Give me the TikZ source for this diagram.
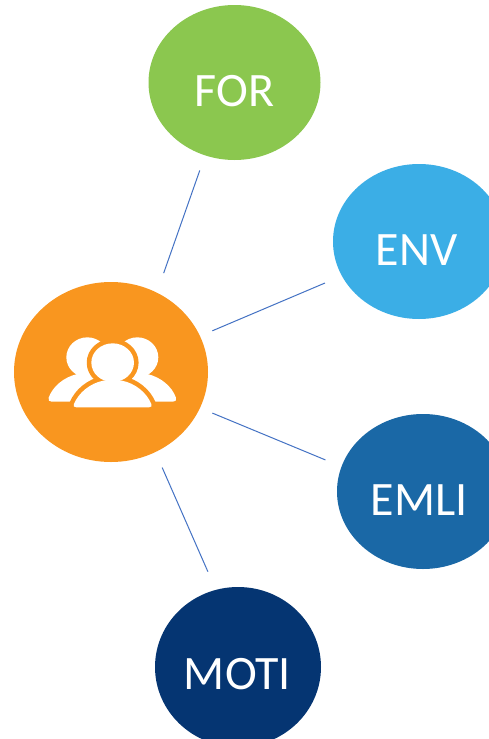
\documentclass[tikz,border=0pt]{standalone}
\usepackage{fontspec}
\setmainfont{Carlito}
\usetikzlibrary{shapes.geometric}
\definecolor{cfor}{HTML}{8BC74F}
\definecolor{cenv}{HTML}{3BAEE6}
\definecolor{cemli}{HTML}{1A68A6}
\definecolor{cmoti}{HTML}{053572}
\definecolor{chub}{HTML}{F9961F}
\definecolor{cline}{HTML}{4472C4}
\tikzset{
  blob/.style={ellipse,draw=none,inner sep=0pt,outer sep=0pt},
  lbl/.style={text=white,font=\fontsize{48}{52}\selectfont,inner sep=0pt},
  link/.style={draw=cline,line width=1pt},
  fig/.style={fill=white,draw=none},
  figedge/.style={draw=chub,line width=9.2pt,line join=round}
}
\newcommand{\frontbody}{(310,332) .. controls (270,340) and (236,368) .. (222,402)
     .. controls (219,409) and (222,412) .. (229,412) -- (447,412)
     .. controls (454,412) and (457,409) .. (454,402)
     .. controls (440,368) and (406,340) .. (366,332) -- cycle}
\begin{document}
\begin{tikzpicture}[x=1pt,y=-1pt]
\clip (0,0) rectangle (489,739);
\fill[white] (0,0) rectangle (489,739);
\node[blob,fill=cfor,minimum width=172pt,minimum height=155pt] (for) at (234.5,82.5) {};
\node[blob,fill=cenv,minimum width=172pt,minimum height=155pt] (env) at (419,241.5) {};
\node[blob,fill=cemli,minimum width=172pt,minimum height=155pt] (emli) at (423,491.5) {};
\node[blob,fill=cmoti,minimum width=166pt,minimum height=160pt] (moti) at (238,667) {};
\node[blob,fill=chub,minimum width=194pt,minimum height=180pt] (hub) at (111,372) {};
\node[lbl] (tfor) at (234.5,91) {FOR};
\node[lbl] (tenv) at (416.5,250) {ENV};
\node[lbl] (temli) at (419,500) {EMLI};
\node[lbl] (tmoti) at (237.5,674) {MOTI};
\draw[link,shorten <=20.7pt,shorten >=16pt] (hub.60) -- (for.-112.4);
\draw[link,shorten <=13.5pt,shorten >=18.4pt] (hub.22.6) -- (env.204.1);
\draw[link,shorten <=13.5pt,shorten >=17.5pt] (hub.-22.6) -- (emli.163.8);
\draw[link,shorten <=17pt,shorten >=19.9pt] (hub.-61.8) -- (moti.106.6);
\begin{scope}[shift={(0,270)},x=0.3333pt,y=-0.3333pt]
  % back figures
  \fill[fig] (262,262) ellipse [x radius=63,y radius=60];
  \fill[fig] (232,312) .. controls (190,322) and (158,350) .. (146,383)
     .. controls (143,391) and (148,395) .. (155,395) -- (300,395) -- (300,312) -- cycle;
  \fill[fig] (412,262) ellipse [x radius=63,y radius=60];
  \fill[fig] (442,312) .. controls (484,322) and (516,350) .. (528,383)
     .. controls (531,391) and (526,395) .. (519,395) -- (374,395) -- (374,312) -- cycle;
  % front figure: orange halo, then white shape
  \draw[figedge] (338,278) ellipse [x radius=64,y radius=58];
  \draw[figedge] \frontbody;
  \fill[fig] \frontbody;
  \fill[fig] (338,278) ellipse [x radius=64,y radius=58];
\end{scope}
\end{tikzpicture}
\end{document}
